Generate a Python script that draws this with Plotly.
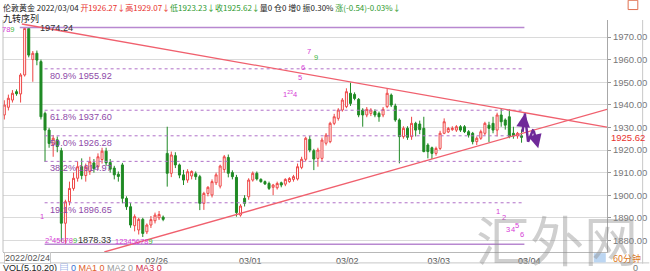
import plotly.graph_objects as go

# ---------------- data ----------------
opens = [1935.5, 1938.9, 1942.1, 1945.8, 1944.8, 1953.2, 1973.8, 1960, 1962.8, 1959.1,
         1936.2, 1928.8, 1922.5, 1924.5, 1919.7, 1887.6, 1897.1, 1903.0, 1907.5, 1912.6,
         1908.7, 1910.5, 1914.3, 1912.6, 1915.8, 1919.5, 1914.5, 1912, 1909.3, 1913.4,
         1898.6, 1894.9, 1886.5, 1884.6, 1889.3, 1883.8, 1886.8, 1888.7, 1890, 1890.3,
         1918.5, 1909.7, 1917.5, 1913.4, 1909, 1906.7, 1908.5, 1909.5, 1908.2, 1896.4,
         1900.8, 1900.1, 1905.5, 1904, 1911.4, 1916.7, 1910, 1907.9, 1891.2, 1898.6,
         1899.3, 1906.7, 1909.7, 1907, 1906, 1905.2, 1903.5, 1903.3, 1905.5, 1904.9,
         1906, 1907, 1907.2, 1912.3, 1915.9, 1924.7, 1919.7, 1916.3, 1916.3, 1923,
         1923.7, 1931.8, 1934, 1937.7, 1939.2, 1945.1, 1944.6, 1942.4, 1937.7, 1935.5,
         1936.2, 1937, 1936.2, 1935.5, 1939.2, 1944.3, 1939.5, 1933.3, 1925.9, 1929.6,
         1925.9, 1931.8, 1931.5, 1929.6, 1922.2, 1921, 1918.5, 1920.7, 1927.4, 1928,
         1929, 1928.8, 1930.3, 1930.3, 1928.1, 1927.4, 1923.7, 1925.2, 1927.4, 1931,
         1931.8, 1928.8, 1935.5, 1933.3, 1934.7, 1927.4, 1926.2, 1926.27]
highs = [1942, 1944.5, 1946.5, 1946.8, 1954, 1974.24, 1974.24, 1963.8, 1964, 1960,
         1937, 1929.8, 1926.6, 1926, 1921, 1898, 1906, 1910, 1915, 1916.3,
         1914, 1917, 1916, 1918.5, 1921, 1921, 1916, 1913, 1910.5, 1914.3,
         1899.5, 1896.5, 1891.5, 1890, 1890, 1887.5, 1890.8, 1892.3, 1893, 1891,
         1930.3, 1919.3, 1919, 1914, 1911.2, 1911.5, 1911, 1910.5, 1909, 1901.5,
         1904, 1907, 1910, 1913.5, 1917.8, 1918, 1911, 1909, 1896, 1900,
         1907.5, 1910.5, 1910.5, 1907.5, 1906.5, 1906, 1905, 1906, 1906, 1907.5,
         1908, 1909, 1914, 1917, 1925.9, 1926.2, 1920.5, 1921, 1925.5, 1927.5,
         1932.5, 1936, 1938.5, 1943, 1947.3, 1949.8, 1945.5, 1943, 1938.5, 1939,
         1938.5, 1938, 1937, 1939, 1947.3, 1945, 1940.5, 1934, 1930.5, 1930.5,
         1934.7, 1932.5, 1933, 1934.7, 1923, 1921.5, 1921.5, 1928.5, 1934, 1930.2,
         1930.5, 1931, 1931, 1931, 1928.8, 1928, 1926, 1929, 1932.5, 1932.5,
         1934.7, 1936.5, 1938.4, 1934, 1938, 1930.3, 1928, 1929.07]
lows = [1933.5, 1937.5, 1941, 1944, 1941, 1952.5, 1961, 1950.2, 1957.5, 1933.5,
        1914.8, 1921, 1917, 1919, 1879.4, 1878.33, 1895.5, 1902, 1906, 1907,
        1906, 1909, 1910, 1911.5, 1914, 1913, 1910, 1907, 1906, 1896.4,
        1893.5, 1885.6, 1884, 1882.6, 1881.5, 1882.8, 1885.5, 1887.5, 1889, 1888.5,
        1903.8, 1908, 1912, 1907.5, 1904.5, 1905.5, 1907, 1906.8, 1893.4, 1893.5,
        1899.5, 1899, 1904.5, 1903, 1910, 1907.9, 1907, 1890.5, 1890.5, 1895,
        1898, 1906, 1906.5, 1905.5, 1904.5, 1902.3, 1900, 1902.5, 1903.5, 1904,
        1905.5, 1906, 1906.5, 1911.5, 1915, 1919, 1911.1, 1912.6, 1915, 1922,
        1923, 1931, 1933, 1937, 1938.5, 1939.5, 1942, 1934.5, 1930.3, 1934.5,
        1935, 1934.5, 1932.5, 1934.5, 1938.5, 1939, 1932.5, 1914.1, 1925, 1924.5,
        1924.5, 1926, 1927, 1919, 1916.3, 1916, 1917.5, 1920, 1927, 1927.5,
        1928.5, 1928, 1928, 1927.5, 1925.5, 1922.5, 1922.2, 1924.5, 1926.5, 1923.5,
        1927.4, 1926, 1930.3, 1929, 1925.2, 1925, 1925, 1923.23]
closes = [1939.9, 1942.9, 1945.1, 1944.9, 1953.2, 1973.8, 1962.0, 1962.8, 1959.8, 1934.7,
          1928.8, 1922.9, 1925.2, 1921.5, 1887.6, 1897.1, 1903.0, 1907.5, 1912.6, 1908.7,
          1912.5, 1914.8, 1911.8, 1917, 1919.5, 1914.3, 1911.5, 1909, 1908.3, 1898.6,
          1894.9, 1886.8, 1890.5, 1889.3, 1883.1, 1886.8, 1889.2, 1891.2, 1891.5, 1889.3,
          1909.7, 1917.8, 1913.4, 1908.9, 1906.7, 1910.4, 1910.5, 1908.2, 1896.4, 1900.8,
          1903.5, 1906.0, 1909, 1912.9, 1917, 1909.7, 1908.2, 1892.3, 1895.2, 1896.4,
          1906.7, 1909.7, 1907.2, 1906, 1905, 1903, 1904.5, 1905.2, 1904.5, 1907,
          1907.4, 1908.2, 1912.6, 1915.9, 1925.2, 1920, 1916, 1920, 1924.4, 1926.6,
          1931.8, 1934.7, 1937.7, 1942.1, 1945.8, 1940.6, 1942.8, 1935.5, 1935.5, 1938,
          1937.7, 1935.5, 1934.7, 1938, 1945.1, 1939.9, 1933.3, 1925.9, 1929.6, 1925.6,
          1931.8, 1928.8, 1929, 1919.3, 1919.3, 1918.5, 1920.7, 1927.4, 1932.5, 1929.5,
          1929.6, 1930.3, 1928.8, 1928.1, 1926.6, 1923.7, 1925.2, 1928.1, 1931.8, 1929.6,
          1928.8, 1935.5, 1932.5, 1931, 1926, 1926.2, 1927.4, 1925.62]
bar_idx = list(range(len(opens)))

y_ticks = [1880, 1890, 1900, 1910, 1920, 1930, 1940, 1950, 1960, 1970]
y_tick_text = ["1880.00", "1890.00", "1900.00", "1910.00", "1920.00",
               "1930.00", "1940.00", "1950.00", "1960.00", "1970.00"]

date_labels = ["02/26", "03/01", "03/02", "03/03", "03/04"]
date_pos = [37.4, 60.4, 84.2, 106.7, 128.9]
first_date = "2022/02/24"

fib_pct = ["80.9%", "61.8%", "50.0%", "38.2%", "19.1%"]
fib_vals = [1955.92, 1937.60, 1926.28, 1914.97, 1896.65]
high_val = 1974.24
low_val = 1878.33
last_close = 1925.62

trend_down_x = [4.3, 147.98]
trend_down_y = [1975.75, 1930.1]
trend_up_x = [24.56, 147.98]
trend_up_y = [1874.87, 1938.0]

proj_x = [127.2, 127.8, 128.6, 129.9, 131.1]
proj_y = [1927.4, 1936.2, 1923.7, 1929.2, 1920.8]

# TD sequential labels: (text, bar position, price)
td_labels = [
    ("78<span style='color:#3cb83c'>9</span>", 1.15, 1973.1),
    ("1", 9.2, 1890.8),
    ("2<sup>3</sup>45678<span style='color:#3cb83c'>9</span>", 13.8, 1880.0),
    ("12345678<span style='color:#3cb83c'>9</span>", 31.8, 1879.6),
    ("1<sup>23</sup>4", 70.2, 1944.8),
    ("5", 72.6, 1951.9),
    ("6", 73.3, 1956.7),
    ("7", 74.8, 1963.6),
    ("<span style='color:#3cb83c'>9</span>", 76.5, 1960.9),
    ("1", 121.1, 1893.0),
    ("2", 122.6, 1890.0),
    ("3", 123.7, 1884.9),
    ("4", 124.8, 1884.9),
    ("5", 126.0, 1886.4),
    ("6", 127.2, 1882.5),
]

# ---------------- figure ----------------
FONT = "Liberation Sans, Arial, Noto Sans CJK SC"
CJK = "Noto Sans CJK SC, Liberation Sans"
TREND = "#f0606e"
ARROW = "#6f2a99"

fig = go.Figure()

for v in fib_vals:
    fig.add_trace(go.Scatter(x=[9.9, 127.5], y=[v, v], mode="lines",
                             line=dict(color="#b070c8", width=1, dash="dot"),
                             hoverinfo="skip", showlegend=False))
fig.add_trace(go.Scatter(x=[3.8, 127.7], y=[high_val, high_val], mode="lines",
                         line=dict(color="#b888d0", width=1.5), hoverinfo="skip", showlegend=False))
fig.add_trace(go.Scatter(x=[9.9, 127.7], y=[low_val, low_val], mode="lines",
                         line=dict(color="#b888d0", width=1.5), hoverinfo="skip", showlegend=False))

fig.add_trace(go.Candlestick(
    x=bar_idx, open=opens, high=highs, low=lows, close=closes,
    increasing=dict(line=dict(color="#ee4545", width=1), fillcolor="#ffffff"),
    decreasing=dict(line=dict(color="#1f8a24", width=1), fillcolor="#1f8a24"),
    whiskerwidth=0, hoverinfo="skip", showlegend=False))

fig.add_trace(go.Scatter(x=trend_down_x, y=trend_down_y, mode="lines",
                         line=dict(color=TREND, width=1.3), hoverinfo="skip", showlegend=False))
fig.add_trace(go.Scatter(x=trend_up_x, y=trend_up_y, mode="lines",
                         line=dict(color=TREND, width=1.3), hoverinfo="skip", showlegend=False))

# projection path
fig.add_trace(go.Scatter(x=proj_x[1:4], y=proj_y[1:4], mode="lines",
                         line=dict(color=ARROW, width=2.5),
                         hoverinfo="skip", showlegend=False))

ann = []
# arrowheads of the projection path
for (i0, i1) in [(0, 1), (3, 4)]:
    ann.append(dict(x=proj_x[i1], y=proj_y[i1], ax=proj_x[i0], ay=proj_y[i0],
                    xref="x", yref="y", axref="x", ayref="y", text="",
                    showarrow=True, arrowhead=2, arrowsize=1.1, arrowwidth=2.5,
                    arrowcolor=ARROW))
# fib labels
for p, v in zip(fib_pct, fib_vals):
    ann.append(dict(x=10.7, y=v, xref="x", yref="y", text=f"{p} {v:.2f}",
                    xanchor="left", yanchor="top", showarrow=False, yshift=0,
                    font=dict(family=FONT, size=9.2, color="#8e4aa8")))
ann.append(dict(x=8.2, y=high_val, xref="x", yref="y", text=f"{high_val:.2f}",
                xanchor="left", yanchor="middle", showarrow=False, yshift=-1,
                font=dict(family=FONT, size=9.2, color="#333333")))
ann.append(dict(x=17.7, y=1880.2, xref="x", yref="y", text=f"{low_val:.2f}",
                xanchor="left", yanchor="middle", showarrow=False,
                font=dict(family=FONT, size=9.2, color="#333333")))
for t, xi, yv in td_labels:
    ann.append(dict(x=xi, y=yv, xref="x", yref="y", text=t, showarrow=False,
                    xanchor="center", yanchor="middle",
                    font=dict(family=FONT, size=7.5, color="#d63cd6")))
# header
header = ("伦敦黄金 2022/03/04 "
          "<span style='color:#e8322e'>开1926.27↓高1929.07↓</span>"
          "<span style='color:#2e9a2e'>低1923.23↓收1925.62↓</span>"
          "量0 仓0 增0 振0.30% "
          "<span style='color:#2e9a2e'>涨(-0.54)-0.03%↓</span>")
ann.append(dict(x=-0.004, y=1.054, xref="paper", yref="paper", text=header,
                xanchor="left", yanchor="middle", showarrow=False,
                font=dict(family=CJK, size=8, color="#222222")))
ann.append(dict(x=-0.004, y=1.008, xref="paper", yref="paper", text="九转序列",
                xanchor="left", yanchor="middle", showarrow=False,
                font=dict(family=CJK, size=9, color="#222222")))
ann.append(dict(x=1.0, y=last_close, xref="paper", yref="y", text=f"{last_close:.2f}",
                xanchor="left", yanchor="middle", showarrow=False, xshift=2,
                font=dict(family=FONT, size=9.5, color="#e8322e")))
ann.append(dict(x=0.002, y=-0.024, xref="paper", yref="paper", text=first_date,
                xanchor="left", yanchor="middle", showarrow=False,
                bordercolor="#c8c8c8", borderwidth=1, borderpad=0, bgcolor="#ffffff",
                font=dict(family=FONT, size=9, color="#555555")))
vol = ("VOL(5,10,20) <span style='color:#3b6fd0'>▤ 0</span> "
       "<span style='color:#e0602a'>MA1 0</span> "
       "<span style='color:#999999'>MA2 0</span> "
       "<span style='color:#d02a4a'>MA3 0</span>")
ann.append(dict(x=-0.004, y=-0.068, xref="paper", yref="paper", text=vol,
                xanchor="left", yanchor="middle", showarrow=False,
                font=dict(family=FONT, size=9, color="#222222")))
ann.append(dict(x=1.0, y=-0.026, xref="paper", yref="paper", text="60分钟",
                xanchor="left", yanchor="middle", showarrow=False, xshift=4,
                font=dict(family=CJK, size=9, color="#e07a1a")))
ann.append(dict(x=1.0, y=-0.068, xref="paper", yref="paper", text="0",
                xanchor="left", yanchor="middle", showarrow=False, xshift=24,
                font=dict(family=FONT, size=9, color="#777777")))
ann.append(dict(x=0.917, y=0.06, xref="paper", yref="paper", text="汇外网",
                xanchor="center", yanchor="middle", showarrow=False,
                font=dict(family=CJK, size=54, color="rgba(140,140,140,0.42)")))

shapes = [
    dict(type="line", xref="paper", yref="paper", x0=0, x1=0, y0=0, y1=1,
         line=dict(color="#c0c0c0", width=1)),
    dict(type="line", xref="paper", yref="paper", x0=-0.01, x1=1.07, y0=-0.047, y1=-0.047,
         line=dict(color="#c8c8c8", width=1)),
    dict(type="line", xref="paper", yref="paper", x0=1.059, x1=1.059, y0=-0.05, y1=1.0,
         line=dict(color="#c8c8c8", width=1)),
    dict(type="rect", xref="paper", yref="paper", x0=0.978, x1=0.998, y0=-0.045, y1=-0.005,
         line=dict(width=0), fillcolor="#bcd6f2"),
    dict(type="rect", xref="paper", yref="paper", x0=1.035, x1=1.051, y0=1.045, y1=1.085,
         line=dict(color="#e07050", width=1), fillcolor="#ffffff"),
]

fig.update_layout(
    width=650, height=271,
    margin=dict(l=3, r=39, t=20, b=19),
    paper_bgcolor="#ffffff", plot_bgcolor="#ffffff",
    showlegend=False,
    annotations=ann, shapes=shapes,
    font=dict(family=FONT, size=9, color="#555555"),
    xaxis=dict(range=[-0.32, 147.98], showgrid=False, zeroline=False,
               rangeslider=dict(visible=False),
               tickmode="array", tickvals=date_pos, ticktext=date_labels,
               ticks="", tickfont=dict(size=9, color="#555555"),
               showline=True, linecolor="#b8b8b8", linewidth=1),
    yaxis=dict(range=[1874.87, 1977.52], side="right",
               tickmode="array", tickvals=y_ticks, ticktext=y_tick_text,
               ticks="outside", ticklen=3, tickcolor="#999999",
               tickfont=dict(size=9.5, color="#777777"),
               showgrid=True, gridcolor="#dadada", gridwidth=1, zeroline=False,
               showline=True, linecolor="#a8a8a8", linewidth=1),
)

fig.write_html("out.html")
